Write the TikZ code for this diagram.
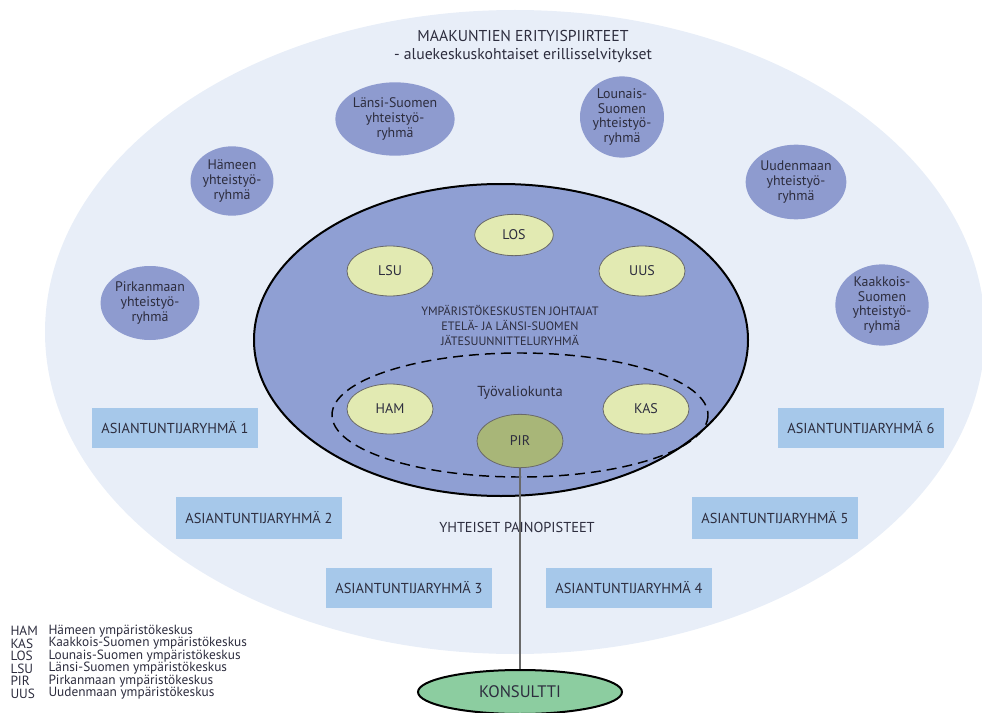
\documentclass[tikz,border=0pt]{standalone}
\usepackage{fontspec}
\setmainfont{PT Sans}
\usetikzlibrary{shapes.geometric}

\definecolor{outerbg}{RGB}{232,238,248}
\definecolor{groupblue}{RGB}{142,155,207}
\definecolor{coreblue}{RGB}{143,159,211}
\definecolor{centrefill}{RGB}{226,234,178}
\definecolor{pirfill}{RGB}{168,182,120}
\definecolor{expertblue}{RGB}{166,200,234}
\definecolor{konsfill}{RGB}{140,205,160}
\definecolor{txt}{RGB}{45,45,62}

\tikzset{every picture/.style={line width=0.75pt}}
\tikzset{
  centre/.style={ellipse, draw={rgb,255:red,105;green,105;blue,105}, line width=0.6pt, fill=centrefill, minimum width=64.5pt, minimum height=37.5pt, inner sep=0pt, text=txt, font=\fontsize{10.5}{12}\selectfont},
  cogroup/.style={ellipse, fill=groupblue, minimum width=63pt, minimum height=55.5pt, inner sep=0pt, align=center, text=txt, font=\fontsize{10.4}{11.2}\selectfont},
  expert/.style={rectangle, fill=expertblue, minimum width=124.5pt, minimum height=30pt, inner sep=0pt, text=txt, font=\fontsize{10.8}{12}\selectfont},
  legendtxt/.style={anchor=west, inner sep=0pt, text=txt, font=\fontsize{10}{10}\selectfont}
}

\begin{document}
\begin{tikzpicture}[x=0.75pt,y=0.75pt,yscale=-1,xscale=1]
\clip (0,0) rectangle (982,713);

%Shape: Ellipse (maakunnat)
\fill [outerbg] (515,332) ellipse (470 and 322);

% Text Node
\node [align=center, text=txt, font=\fontsize{11.8}{13.5}\selectfont] (title) at (523,47) {MAAKUNTIEN ERITYISPIIRTEET\\- aluekeskuskohtaiset erillisselvitykset};

%Shape: Ellipse (johtajat)
\draw [fill=coreblue, line width=1.5pt] (501,340) ellipse (247 and 156);
%Shape: Ellipse (tyovaliokunta)
\draw [dash pattern=on 7.5pt off 4.5pt, line width=1.1pt] (520,415) ellipse (188 and 62);

% yhteistyoryhmat
\node [cogroup] (pirgrp) at (150,303) {Pirkanmaan\\yhteistyö-\\ryhmä};
\node [cogroup, minimum width=61.5pt, minimum height=52pt] (hamgrp) at (232,181) {Hämeen\\yhteistyö-\\ryhmä};
\node [cogroup, minimum width=61.5pt, minimum height=55pt] (lsugrp) at (395,119) {Länsi-Suomen\\yhteistyö-\\ryhmä};
\node [cogroup, minimum height=57pt] (losgrp) at (622,117) {Lounais-\\Suomen\\yhteistyö-\\ryhmä};
\node [cogroup, minimum width=70pt, minimum height=56pt] (uusgrp) at (796,182) {Uudenmaan\\yhteistyö-\\ryhmä};
\node [cogroup, minimum width=70pt, minimum height=56pt] (kasgrp) at (882,305) {Kaakkois-\\Suomen\\yhteistyö-\\ryhmä};

% ymparistokeskukset
\node [centre, minimum width=59pt, minimum height=31pt] (los) at (514,235) {LOS};
\node [centre] (lsu) at (390,271) {LSU};
\node [centre] (uus) at (642,271) {UUS};
\node [centre] (ham) at (390,409) {HAM};
\node [centre] (kas) at (646,409) {KAS};
\node [centre, fill=pirfill, minimum height=40pt] (pir) at (520,441) {PIR};

% Text Node
\node [align=center, text=txt, font=\fontsize{9.1}{11.25}\selectfont] (johto) at (510,325) {YMPÄRISTÖKESKUSTEN JOHTAJAT\\ETELÄ- JA LÄNSI-SUOMEN\\JÄTESUUNNITTELURYHMÄ};
% Text Node
\node [text=txt, font=\fontsize{10.9}{12}\selectfont] (tvk) at (520,393) {Työvaliokunta};

% asiantuntijaryhmat
\node [expert] (ar1) at (175,428) {ASIANTUNTIJARYHMÄ 1};
\node [expert, minimum height=32pt] (ar2) at (259,518) {ASIANTUNTIJARYHMÄ 2};
\node [expert] (ar3) at (409,588) {ASIANTUNTIJARYHMÄ 3};
\node [expert] (ar4) at (629,588) {ASIANTUNTIJARYHMÄ 4};
\node [expert, minimum height=32pt] (ar5) at (775,518) {ASIANTUNTIJARYHMÄ 5};
\node [expert] (ar6) at (861,428) {ASIANTUNTIJARYHMÄ 6};

% Text Node
\node [text=txt, font=\fontsize{10.8}{12}\selectfont] (paino) at (517,527) {YHTEISET PAINOPISTEET};

% konsultti
\node [ellipse, draw, line width=1.5pt, fill=konsfill, minimum width=153pt, minimum height=33pt, inner sep=0pt, text=txt, font=\fontsize{12.5}{14}\selectfont] (kons) at (520,692) {KONSULTTI};

%Straight Lines
\draw [color={rgb,255:red,105;green,105;blue,105}, line width=1.5pt] (pir) -- (kons);

% legend
\node [legendtxt] (lham) at (10,631) {HAM};
\node [legendtxt] (lkas) at (10,643.5) {KAS};
\node [legendtxt] (llos) at (10,656) {LOS};
\node [legendtxt] (llsu) at (10,668.5) {LSU};
\node [legendtxt] (lpir) at (10,681) {PIR};
\node [legendtxt] (luus) at (10,693.5) {UUS};
\node [legendtxt] (dham) at (48,631) {Hämeen ympäristökeskus};
\node [legendtxt] (dkas) at (48,643.5) {Kaakkois-Suomen ympäristökeskus};
\node [legendtxt] (dlos) at (48,656) {Lounais-Suomen ympäristökeskus};
\node [legendtxt] (dlsu) at (48,668.5) {Länsi-Suomen ympäristökeskus};
\node [legendtxt] (dpir) at (48,681) {Pirkanmaan ympäristökeskus};
\node [legendtxt] (duus) at (48,693.5) {Uudenmaan ympäristökeskus};
\end{tikzpicture}
\end{document}
